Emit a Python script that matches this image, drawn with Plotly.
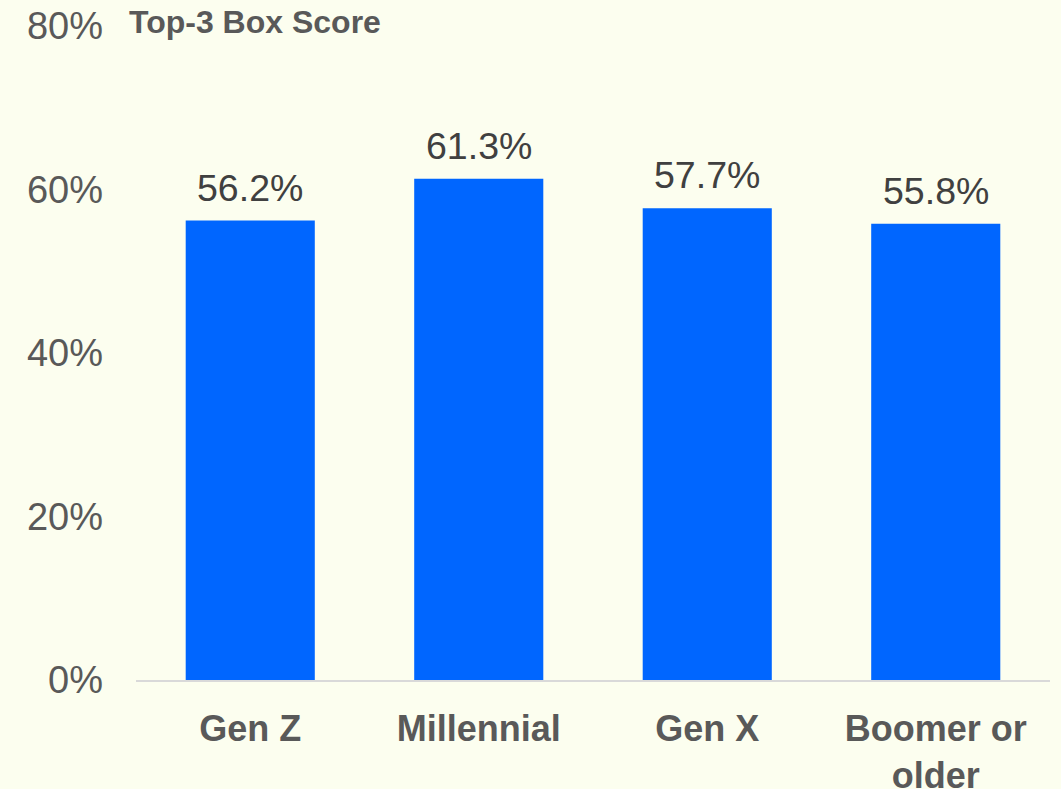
import plotly.graph_objects as go

categories = ["Gen Z", "Millennial", "Gen X", "Boomer or<br>older"]
values = [56.2, 61.3, 57.7, 55.8]
value_labels = ["56.2%", "61.3%", "57.7%", "55.8%"]
y_ticks = [0, 20, 40, 60, 80]
y_tick_labels = ["0%", "20%", "40%", "60%", "80%"]
chart_title = "Top-3 Box Score"

BG = "#FCFEEF"
BAR = "#0066FF"
FONT = "Liberation Sans, Arial, sans-serif"

fig = go.Figure()
fig.add_trace(go.Bar(x=categories, y=values, marker=dict(color=BAR, line=dict(width=0)),
                     hoverinfo="skip"))

for c, v, t in zip(categories, values, value_labels):
    fig.add_annotation(x=c, y=v, text=t, showarrow=False, xanchor="center", yanchor="bottom",
                       yshift=10, font=dict(family=FONT, size=37.5, color="#404040"))

fig.add_annotation(xref="paper", yref="paper", x=-0.0098, y=1, xanchor="left", yanchor="middle",
                   yshift=4, text=chart_title, showarrow=False,
                   font=dict(family=FONT, size=32, color="#595959", weight="bold"))

fig.update_layout(
    width=1061, height=789,
    margin=dict(l=136, r=11, t=26, b=109, autoexpand=False),
    paper_bgcolor=BG, plot_bgcolor=BG,
    bargap=0.435, showlegend=False,
    xaxis=dict(showline=True, linecolor="#D9D9D9", linewidth=2, ticks="", showgrid=False,
               tickfont=dict(family=FONT, size=36, color="#595959", weight="bold"),
               ticklabelstandoff=16, fixedrange=True, automargin=False),
    yaxis=dict(range=[0, 80], tickvals=y_ticks, ticktext=y_tick_labels, showgrid=False,
               zeroline=False, showline=False, ticks="",
               tickfont=dict(family=FONT, size=38, color="#595959"),
               ticklabelstandoff=32, fixedrange=True, automargin=False),
)

fig.write_html("out.html", config={"displayModeBar": False},
               post_script="document.body.style.margin='0';")
